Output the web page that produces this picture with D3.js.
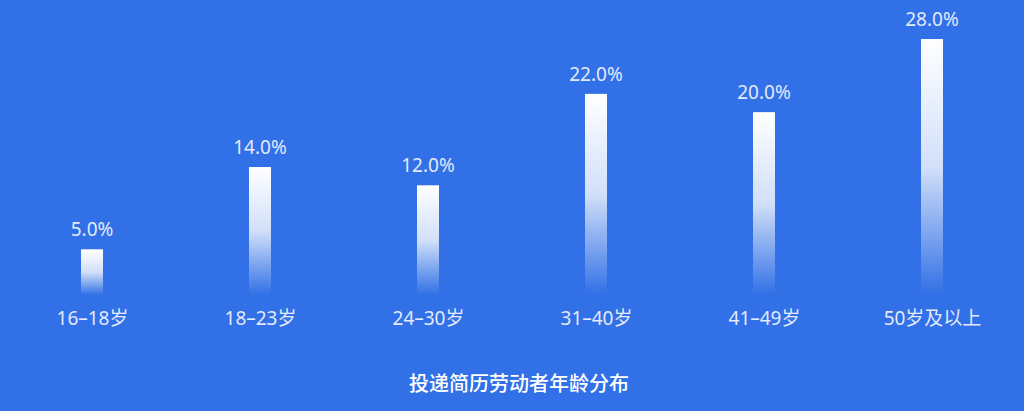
<!DOCTYPE html>
<html>
<head>
<meta charset="utf-8">
<script src="https://cdn.jsdelivr.net/npm/d3@7"></script>
<style>
  html, body { margin: 0; padding: 0; background: #3170e6; }
  svg { display: block; font-family: "Noto Sans", "Noto Sans CJK SC", sans-serif; }
</style>
</head>
<body>
<svg id="chart" width="1024" height="411"></svg>
<script>
// données
var categories = ["16-18岁", "18-23岁", "24-30岁", "31-40岁", "41-49岁", "50岁及以上"];
var values = [5.0, 14.0, 12.0, 22.0, 20.0, 28.0];
var title = "投递简历劳动者年龄分布";

var width = 1024, height = 411;
var svg = d3.select("#chart");

svg.append("rect")
  .attr("width", width)
  .attr("height", height)
  .attr("fill", "#3170e6");

// dégradé des barres : blanc en haut, transparent en bas
var defs = svg.append("defs");
var grad = defs.append("linearGradient")
  .attr("id", "barGrad")
  .attr("x1", 0).attr("y1", 0).attr("x2", 0).attr("y2", 1);
grad.append("stop").attr("offset", "0%").attr("stop-color", "#ffffff").attr("stop-opacity", 1);
grad.append("stop").attr("offset", "50%").attr("stop-color", "#ffffff").attr("stop-opacity", 0.78);
grad.append("stop").attr("offset", "100%").attr("stop-color", "#ffffff").attr("stop-opacity", 0);

var x = d3.scalePoint()
  .domain(categories)
  .range([92, 932]);

var y = d3.scaleLinear()
  .domain([0, 28])
  .range([295, 39]);

var barW = 22;

var data = categories.map(function(c, i){ return {cat: c, val: values[i]}; });

svg.selectAll("rect.bar")
  .data(data)
  .enter().append("rect")
  .attr("class", "bar")
  .attr("x", function(d){ return x(d.cat) - barW / 2; })
  .attr("y", function(d){ return y(d.val); })
  .attr("width", barW)
  .attr("height", function(d){ return y(0) - y(d.val); })
  .attr("fill", "url(#barGrad)");

// valeurs au dessus des barres
svg.selectAll("text.val")
  .data(data)
  .enter().append("text")
  .attr("class", "val")
  .attr("x", function(d){ return x(d.cat); })
  .attr("y", function(d){ return y(d.val) - 13; })
  .attr("text-anchor", "middle")
  .attr("font-size", 19)
  .attr("fill", "#e2eafc")
  .text(function(d){ return d.val.toFixed(1) + "%"; });

// axe des catégories (sans ligne ni ticks)
var axis = svg.append("g")
  .attr("transform", "translate(0,325)")
  .call(d3.axisBottom(x).tickSize(0).tickPadding(0).tickFormat(function(d){ return d.replace("-", "–"); }));
axis.select(".domain").remove();
axis.selectAll("text")
  .attr("dy", 0)
  .attr("font-size", 19)
  .attr("font-family", "\"Noto Sans\", \"Noto Sans CJK SC\", sans-serif")
  .attr("fill", "#e2eafc");

svg.append("text")
  .attr("x", 519)
  .attr("y", 391)
  .attr("text-anchor", "middle")
  .attr("font-size", 20)
  .attr("font-weight", 500)
  .attr("fill", "#ffffff")
  .text(title);
</script>
</body>
</html>
